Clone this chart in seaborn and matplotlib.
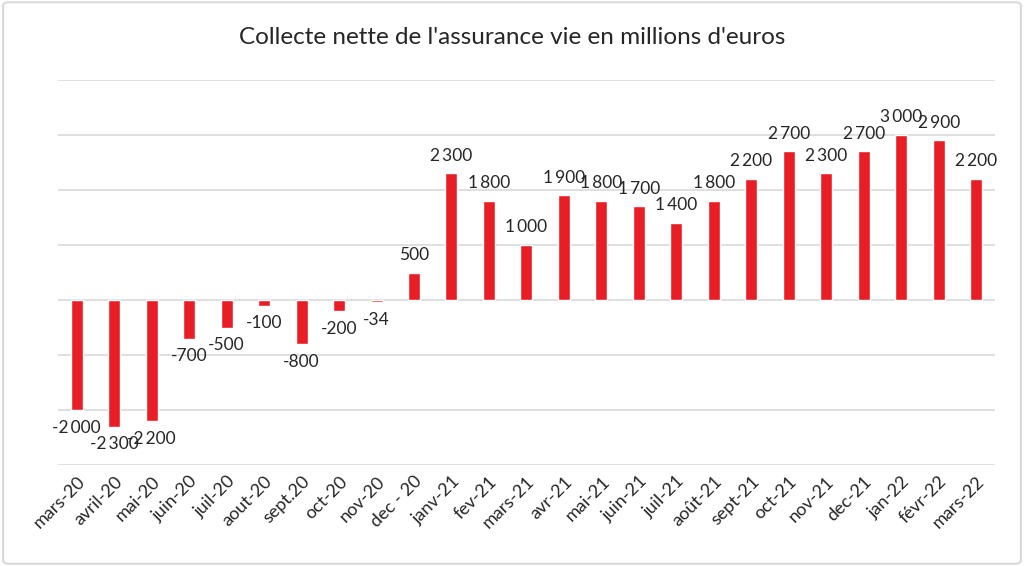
import numpy as np
import pandas as pd
import matplotlib.pyplot as plt
import seaborn as sns
from matplotlib.patches import FancyBboxPatch

# ---------------- Data ----------------
months = ["mars-20", "avril-20", "mai-20", "juin-20", "juil-20", "aout-20",
          "sept.20", "oct-20", "nov-20", "dec - 20", "janv-21", "fev-21",
          "mars-21", "avr-21", "mai-21", "juin-21", "juil-21", "août-21",
          "sept-21", "oct-21", "nov-21", "dec-21", "jan-22", "févr-22", "mars-22"]
collecte = [-2000, -2300, -2200, -700, -500, -100, -800, -200, -34, 500,
            2300, 1800, 1000, 1900, 1800, 1700, 1400, 1800,
            2200, 2700, 2300, 2700, 3000, 2900, 2200]
grid_ticks = [-3000, -2000, -1000, 0, 1000, 2000, 3000, 4000]

df = pd.DataFrame({"mois": months, "collecte": collecte})

# ---------------- Style ----------------
sns.set_style("white")
plt.rcParams["font.family"] = ["Lato", "DejaVu Sans"]

fig = plt.figure(figsize=(10.24, 5.66), dpi=100)
ax = fig.add_axes([0.0566, 0.1784, 0.915, 0.6803])

sns.barplot(data=df, x="mois", y="collecte", color="#E91D25",
            width=0.32, saturation=1, ax=ax, zorder=3)

ax.set_ylim(-3000, 4000)
ax.set_xlim(-0.5, len(months) - 0.5)
ax.set_yticks(grid_ticks)
ax.set_yticklabels([])
ax.yaxis.grid(True, color="#d9d9d9", linewidth=1.2, zorder=0)
ax.tick_params(axis="both", length=0)
ax.tick_params(axis="x", pad=6)
for s in ax.spines.values():
    s.set_visible(False)
ax.set_xlabel("")
ax.set_ylabel("")

plt.setp(ax.get_xticklabels(), rotation=45, ha="right",
         rotation_mode="anchor", fontsize=13)

# Data labels (narrow thousands separator, like the original)
labels = [f"{v:,.0f}".replace(",", "\u2009") for v in collecte]
ax.bar_label(ax.containers[0], labels=labels, padding=7, fontsize=12.5)

fig.suptitle("Collecte nette de l'assurance vie en millions d'euros",
             fontsize=17.5, y=0.952)

# Chart border
fig.patches.append(FancyBboxPatch((0.003, 0.004), 0.994, 0.992,
                                  boxstyle="round,pad=0,rounding_size=0.006",
                                  transform=fig.transFigure, fill=False,
                                  edgecolor="#d9d9d9", linewidth=1.5))

plt.savefig("out.png", dpi=100)
